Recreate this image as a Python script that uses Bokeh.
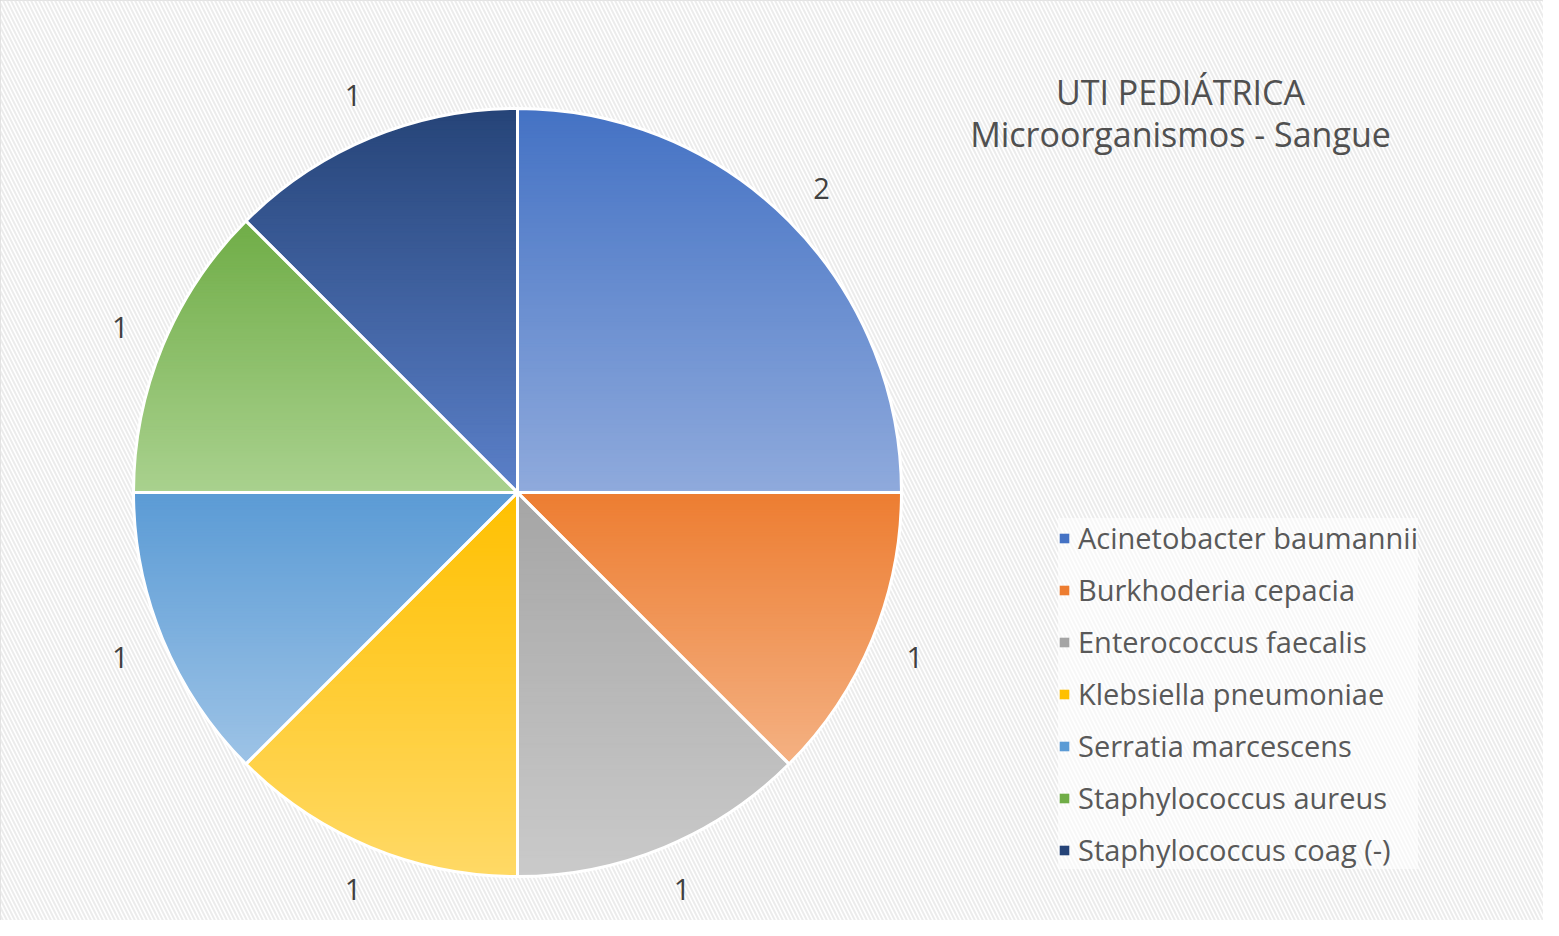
import numpy as np
from bokeh.plotting import figure
from bokeh.models import Legend, LegendItem, ColumnDataSource, Range1d
from bokeh.core.properties import value
from bokeh.embed import file_html
from bokeh.resources import INLINE

# ---------------- data ----------------
categories = [
    "Acinetobacter baumannii",
    "Burkhoderia cepacia",
    "Enterococcus faecalis",
    "Klebsiella pneumoniae",
    "Serratia marcescens",
    "Staphylococcus aureus",
    "Staphylococcus coag (-)",
]
counts = [2, 1, 1, 1, 1, 1, 1]
top_colors = ["#4472C4", "#ED7D31", "#A5A5A5", "#FFC000", "#5B9BD5", "#70AD47", "#264478"]
bottom_colors = ["#8FAADC", "#F4B183", "#CACACA", "#FFD966", "#9DC3E6", "#A9D18E", "#5B80C9"]
title_lines = ["UTI PEDIÁTRICA", "Microorganismos - Sangue"]

# ---------------- layout ----------------
W, H = 1543, 920
FONT = "Open Sans"


def px(x):
    return x


def py(y):
    return H - y


CX, CY = px(517), py(492)
R = 384
LABEL_R = 430

p = figure(width=W, height=H, x_range=Range1d(0, W), y_range=Range1d(0, H),
           output_backend="svg", toolbar_location=None, min_border=0)
p.axis.visible = False
p.grid.visible = False
p.outline_line_color = "#d9d9d9"
p.outline_line_width = 2
p.background_fill_color = "white"
p.border_fill_color = "white"

# hatched background
p.quad(left=0, right=W, bottom=0, top=H, fill_color="white", line_color=None,
       hatch_pattern="\\", hatch_color="#ececec", hatch_scale=8, hatch_weight=2)

# angles (clockwise from 12 o'clock)
total = float(sum(counts))
cum = np.concatenate([[0], np.cumsum(counts)])
starts = np.pi / 2 - cum[:-1] / total * 2 * np.pi
ends = np.pi / 2 - cum[1:] / total * 2 * np.pi

src = ColumnDataSource(dict(start=starts, end=ends, color=top_colors, cat=categories))
base = p.wedge(x=CX, y=CY, radius=R, start_angle="start", end_angle="end",
               direction="clock", fill_color="color", line_color=None, source=src)


def lerp_color(c1, c2, t):
    a = [int(c1[i:i + 2], 16) for i in (1, 3, 5)]
    b = [int(c2[i:i + 2], 16) for i in (1, 3, 5)]
    return "#%02x%02x%02x" % tuple(int(round(a[k] + (b[k] - a[k]) * t)) for k in range(3))


def clip_half(poly, yv, keep_above):
    out = []
    n = len(poly)
    for i in range(n):
        cur = poly[i]
        prev = poly[i - 1]
        cin = cur[1] >= yv if keep_above else cur[1] <= yv
        pin = prev[1] >= yv if keep_above else prev[1] <= yv
        if cin:
            if not pin:
                t = (yv - prev[1]) / (cur[1] - prev[1])
                out.append((prev[0] + t * (cur[0] - prev[0]), yv))
            out.append(cur)
        elif pin:
            t = (yv - prev[1]) / (cur[1] - prev[1])
            out.append((prev[0] + t * (cur[0] - prev[0]), yv))
    return out


# vertical gradient per slice, built as thin horizontal strips
xs, ys, cols = [], [], []
NB = 90
for i in range(len(counts)):
    th = np.linspace(starts[i], ends[i], 240)
    poly = [(CX, CY)] + [(CX + R * np.cos(t), CY + R * np.sin(t)) for t in th]
    ymin = min(q[1] for q in poly)
    ymax = max(q[1] for q in poly)
    edges = np.linspace(ymax, ymin, NB + 1)
    for k in range(NB):
        y_hi, y_lo = edges[k], edges[k + 1]
        part = clip_half(poly, y_lo, True)
        if len(part) < 3:
            continue
        part = clip_half(part, y_hi, False)
        if len(part) < 3:
            continue
        c = lerp_color(top_colors[i], bottom_colors[i], (k + 0.5) / NB)
        xs.append([q[0] for q in part])
        ys.append([q[1] for q in part])
        cols.append(c)
p.patches(xs=xs, ys=ys, fill_color=cols, line_color=cols, line_width=1.2)

# white slice borders
p.wedge(x=CX, y=CY, radius=R, start_angle="start", end_angle="end", direction="clock",
        fill_alpha=0, line_color="white", line_width=3, source=src)

# data labels
mids = (starts + ends) / 2
lsrc = ColumnDataSource(dict(x=CX + LABEL_R * np.cos(mids), y=CY + LABEL_R * np.sin(mids),
                             t=[str(c) for c in counts]))
p.text(x="x", y="y", text="t", source=lsrc, text_align="center", text_baseline="middle",
       text_font=value(FONT), text_font_size="29px", text_color="#404040")

# title
p.text(x=[px(1180), px(1180)], y=[py(91), py(133)], text=title_lines,
       text_align="center", text_baseline="middle", text_font=value(FONT),
       text_font_size="34px", text_color="#505050")

# legend
items = [LegendItem(label=c, renderers=[base], index=i) for i, c in enumerate(categories)]
legend = Legend(items=items, location=(1058, H - 869))
legend.label_text_font = FONT
legend.label_text_font_size = "29px"
legend.label_text_color = "#595959"
legend.glyph_width = 12
legend.glyph_height = 12
legend.label_standoff = 8
legend.spacing = 13
legend.padding = 10
legend.margin = 0
legend.background_fill_color = "white"
legend.background_fill_alpha = 0.6
legend.border_line_color = None
p.add_layout(legend)

open("out.html", "w").write(file_html(p, INLINE))
